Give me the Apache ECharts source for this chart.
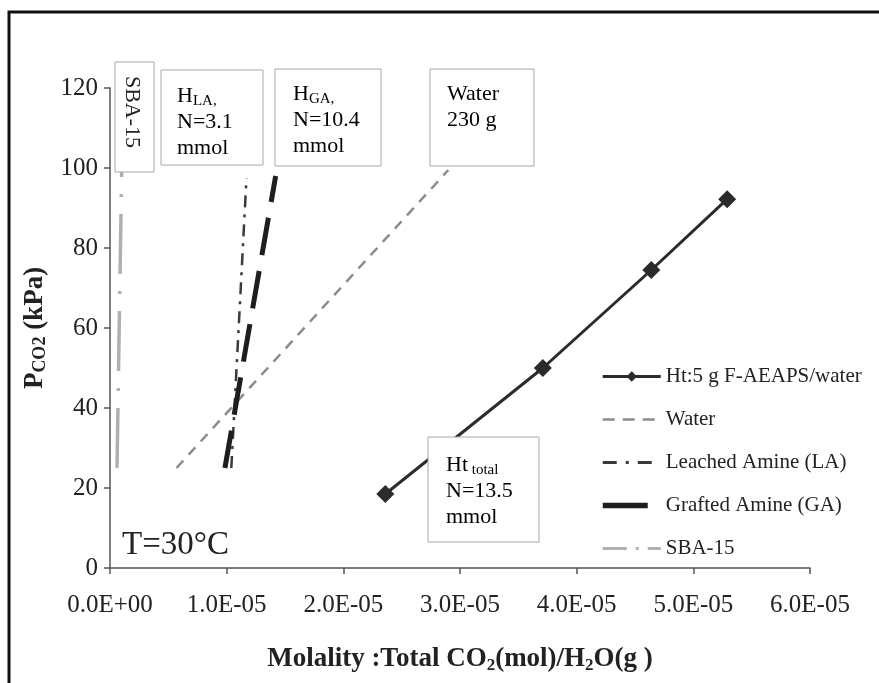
<!DOCTYPE html>
<html lang="en">
<head>
    <meta charset="UTF-8">
    <title>CO2 molality</title>
    <script src="https://cdn.jsdelivr.net/npm/echarts@6/dist/echarts.min.js"></script>
    <style>
        * { margin: 0; padding: 0; }
        #main { width: 879px; height: 683px; background: #fff; }
    </style>
</head>
<body>
    <div id="main"></div>
    <script>
        // values
        var xTickLabels = ['0.0E+00', '1.0E-05', '2.0E-05', '3.0E-05', '4.0E-05', '5.0E-05', '6.0E-05'];
        var yTickLabels = ['0', '20', '40', '60', '80', '100', '120'];

        var htX = [2.36e-5, 3.71e-5, 4.64e-5, 5.29e-5];
        var htY = [18.5, 50, 74.5, 92.2];
        var waterX = [0.57e-5, 2.9e-5];
        var waterY = [25, 99.5];
        var laX = [1.04e-5, 1.17e-5];
        var laY = [25, 97.5];
        var gaX = [0.985e-5, 1.42e-5];
        var gaY = [25, 98];
        var sbaX = [0.06e-5, 0.10e-5];
        var sbaY = [25, 99];

        function pairs(xs, ys) {
            return xs.map(function (x, i) { return [x, ys[i]]; });
        }

        var serif = 'Liberation Serif';
        var chart = echarts.init(document.getElementById('main'));

        var boxStyle = { fill: '#fff', stroke: '#a8a8a8', lineWidth: 1 };
        var boxRich = {
            m: { fontFamily: serif, fontSize: 22, lineHeight: 26, color: '#222' },
            s: { fontFamily: serif, fontSize: 15, lineHeight: 10, verticalAlign: 'bottom', color: '#222' }
        };
        // hide the circle ECharts puts on plain line legend icons
        var noDot = { opacity: 0 };

        var option = {
            backgroundColor: '#fff',
            animation: false,
            grid: { left: 110, right: 69, top: 88, bottom: 115 },
            xAxis: {
                type: 'value',
                min: 0,
                max: 6e-5,
                interval: 1e-5,
                splitLine: { show: false },
                axisLine: { lineStyle: { color: '#555', width: 1.5 } },
                axisTick: { lineStyle: { color: '#555', width: 1.5 }, length: 6 },
                axisLabel: {
                    fontFamily: serif, fontSize: 25, color: '#222', margin: 25,
                    formatter: function (v, i) { return xTickLabels[i]; }
                },
                name: '{b|Molality :Total CO}{bs|2}{b|(mol)/H}{bs|2}{b|O(g )}',
                nameLocation: 'middle',
                nameGap: 76,
                nameTextStyle: {
                    rich: {
                        b: { fontFamily: serif, fontWeight: 'bold', fontSize: 27, lineHeight: 30, color: '#222' },
                        bs: { fontFamily: serif, fontWeight: 'bold', fontSize: 17, lineHeight: 12, verticalAlign: 'bottom', color: '#222' }
                    }
                }
            },
            yAxis: {
                type: 'value',
                min: 0,
                max: 120,
                interval: 20,
                splitLine: { show: false },
                axisLine: { show: true, lineStyle: { color: '#555', width: 1.5 } },
                axisTick: { show: true, lineStyle: { color: '#555', width: 1.5 }, length: 6 },
                axisLabel: {
                    fontFamily: serif, fontSize: 25, color: '#222', margin: 12,
                    formatter: function (v, i) { return yTickLabels[i]; }
                },
                name: '{b|P}{bs|CO2}{b| (kPa)}',
                nameLocation: 'middle',
                nameRotate: 90,
                nameGap: 54,
                nameTextStyle: {
                    rich: {
                        b: { fontFamily: serif, fontWeight: 'bold', fontSize: 27, lineHeight: 30, color: '#222' },
                        bs: { fontFamily: serif, fontWeight: 'bold', fontSize: 18, lineHeight: 14, verticalAlign: 'bottom', color: '#222' }
                    }
                }
            },
            legend: {
                orient: 'vertical',
                left: 595,
                top: 361,
                itemWidth: 58,
                itemHeight: 13,
                itemGap: 22,
                textStyle: { fontFamily: serif, fontSize: 21, color: '#222' },
                data: [
                    { name: 'Ht:5 g F-AEAPS/water', lineStyle: { width: 3 } },
                    { name: 'Water', itemStyle: noDot, lineStyle: { width: 2.5, type: [12, 8] } },
                    { name: 'Leached Amine (LA)', itemStyle: noDot, lineStyle: { width: 3, type: [14, 9, 3, 9] } },
                    { name: 'Grafted Amine (GA)', itemStyle: noDot, lineStyle: { width: 5.5, type: [45, 20] } },
                    { name: 'SBA-15', itemStyle: noDot, lineStyle: { width: 3, type: [24, 9, 3, 9] } }
                ]
            },
            series: [
                {
                    name: 'Ht:5 g F-AEAPS/water',
                    type: 'line',
                    data: pairs(htX, htY),
                    symbol: 'diamond',
                    symbolSize: 18,
                    itemStyle: { color: '#2b2b2b' },
                    lineStyle: { color: '#2b2b2b', width: 3 },
                    z: 3
                },
                {
                    name: 'Water',
                    type: 'line',
                    data: pairs(waterX, waterY),
                    symbol: 'none',
                    itemStyle: { color: '#8c8c8c' },
                    lineStyle: { color: '#8c8c8c', width: 2.5, type: [10, 8] }
                },
                {
                    name: 'Leached Amine (LA)',
                    type: 'line',
                    data: pairs(laX, laY),
                    symbol: 'none',
                    itemStyle: { color: '#3a3a3a' },
                    lineStyle: { color: '#3a3a3a', width: 2.5, type: [12, 7, 3, 7] }
                },
                {
                    name: 'Grafted Amine (GA)',
                    type: 'line',
                    data: pairs(gaX, gaY),
                    symbol: 'none',
                    itemStyle: { color: '#1e1e1e' },
                    lineStyle: { color: '#1e1e1e', width: 5, type: [38, 16] }
                },
                {
                    name: 'SBA-15',
                    type: 'line',
                    data: pairs(sbaX, sbaY),
                    symbol: 'none',
                    itemStyle: { color: '#b0b0b0' },
                    lineStyle: { color: '#b0b0b0', width: 3.5, type: [60, 17, 3, 17] }
                }
            ],
            graphic: [
                // outer frame (left and top edges)
                { type: 'polyline', z: 100, shape: { points: [[9, 683], [9, 12], [879, 12]] }, style: { stroke: '#111', lineWidth: 3, fill: null } },
                // SBA-15 box
                { type: 'rect', z: 100, shape: { x: 115, y: 62, width: 39, height: 110 }, style: boxStyle },
                { type: 'text', z: 101, x: 132, y: 112, rotation: -Math.PI / 2,
                  style: { text: 'SBA-15', fontFamily: serif, fontSize: 22, fill: '#222', align: 'center', verticalAlign: 'middle' } },
                // H_LA box
                { type: 'rect', z: 100, shape: { x: 161, y: 70, width: 102, height: 95 }, style: boxStyle },
                { type: 'text', z: 101, x: 177, y: 83,
                  style: { text: '{m|H}{s|LA,}\n{m|N=3.1}\n{m|mmol}', rich: boxRich, verticalAlign: 'top' } },
                // H_GA box
                { type: 'rect', z: 100, shape: { x: 275, y: 69, width: 106, height: 97 }, style: boxStyle },
                { type: 'text', z: 101, x: 293, y: 81,
                  style: { text: '{m|H}{s|GA,}\n{m|N=10.4}\n{m|mmol}', rich: boxRich, verticalAlign: 'top' } },
                // Water box
                { type: 'rect', z: 100, shape: { x: 430, y: 69, width: 104, height: 97 }, style: boxStyle },
                { type: 'text', z: 101, x: 447, y: 81,
                  style: { text: '{m|Water}\n{m|230 g}', rich: boxRich, verticalAlign: 'top' } },
                // Ht total box
                { type: 'rect', z: 100, shape: { x: 428, y: 437, width: 111, height: 105 }, style: boxStyle },
                { type: 'text', z: 101, x: 446, y: 452,
                  style: { text: '{m|Ht}{s| total}\n{m|N=13.5}\n{m|mmol}', rich: boxRich, verticalAlign: 'top' } },
                // temperature
                { type: 'text', z: 101, x: 122, y: 545,
                  style: { text: 'T=30\u00b0C', fontFamily: serif, fontSize: 33, fill: '#222', verticalAlign: 'middle' } }
            ]
        };

        chart.setOption(option);
    </script>
</body>
</html>
